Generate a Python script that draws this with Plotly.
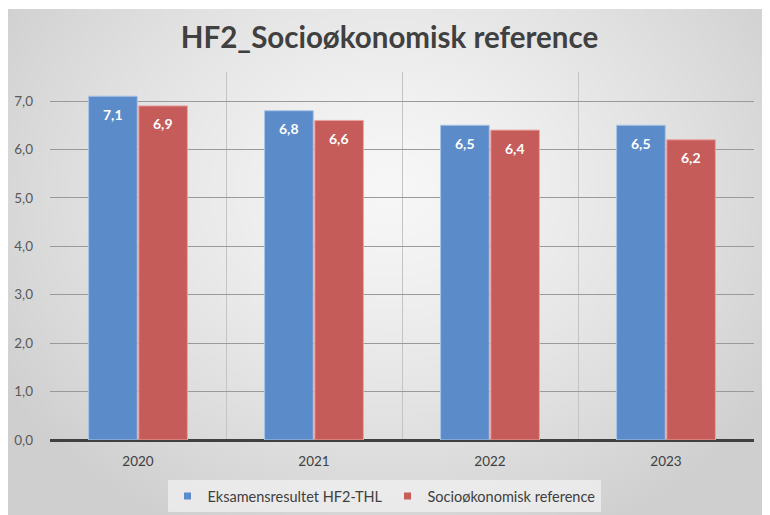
import base64, struct, zlib
import numpy as np
import plotly.graph_objects as go

# ---- data ----
years = ["2020", "2021", "2022", "2023"]
eksamen = [7.1, 6.8, 6.5, 6.5]
socio = [6.9, 6.6, 6.4, 6.2]
series_names = ["Eksamensresultet HF2-THL", "Socioøkonomisk reference"]
title_text = "HF2_Socioøkonomisk reference"
colors = ["#5b8bc8", "#c65c59"]
edge_colors = ["#a8c3e6", "#eba3a1"]

# ---- background gradient image (style only) ----
def make_png(arr):
    h, w, _ = arr.shape
    raw = b"".join(b"\x00" + arr[i].tobytes() for i in range(h))
    def chunk(tag, data):
        c = struct.pack(">I", len(data)) + tag + data
        return c + struct.pack(">I", zlib.crc32(tag + data) & 0xffffffff)
    png = b"\x89PNG\r\n\x1a\n"
    png += chunk(b"IHDR", struct.pack(">IIBBBBB", w, h, 8, 2, 0, 0, 0))
    png += chunk(b"IDAT", zlib.compress(raw, 9))
    png += chunk(b"IEND", b"")
    return "data:image/png;base64," + base64.b64encode(png).decode()

W, H = 200, 130
u = (np.arange(W) + 0.5) / W
v = (np.arange(H) + 0.5) / H
U, V = np.meshgrid(u, v)
d = np.sqrt(((U - 0.5) / 0.6) ** 2 + ((V - 0.35) / 0.75) ** 2)
d = np.clip(d, 0, 1) ** 1.3
val = 247 - (247 - 207) * d
img = np.stack([val, val, val], axis=-1).astype(np.uint8)
bg_src = make_png(img)

# layout geometry in figure pixels (page body adds an 8px offset)
FW, FH = 770, 515
OFF = 8
L, R, T, B = 50 - OFF, 754 - OFF, 72 - OFF, 440 - OFF
pw, ph = R - L, B - T
def px_x(x):
    return (x - L) / pw
def px_y(y):
    return (B - y) / ph

BARGAP = 0.43
slot = pw / len(years) * (1 - BARGAP) / 2  # px width per bar slot

fig = go.Figure()
for name, vals, col, ecol in zip(series_names, [eksamen, socio], colors, edge_colors):
    fig.add_trace(go.Bar(
        x=years, y=vals, name=name, showlegend=False,
        marker=dict(color=col, line=dict(color=ecol, width=1)),
        hoverinfo="skip",
    ))
# legend entries (small square keys, no visible marks)
for name, col in zip(series_names, colors):
    fig.add_trace(go.Scatter(
        x=[years[0]], y=[None], name=name, mode="markers",
        marker=dict(symbol="square", size=7, color=col),
        hoverinfo="skip",
    ))

# value labels inside bar tops
annotations = []
for vals, sign in [(eksamen, -1), (socio, 1)]:
    for idx, val in enumerate(vals):
        annotations.append(dict(
            x=idx, y=val, xref="x", yref="y",
            text=f"{val:.1f}".replace(".", ","), showarrow=False,
            xshift=sign * slot / 2, yshift=-18, yanchor="middle",
            font=dict(family="Lato", size=14, color="white", weight="bold"),
        ))

fig.update_layout(
    width=FW, height=FH,
    margin=dict(l=L, r=FW - R, t=T, b=FH - B, pad=0, autoexpand=False),
    paper_bgcolor="white",
    plot_bgcolor="rgba(0,0,0,0)",
    separators=",.",
    barmode="group",
    bargap=BARGAP,
    bargroupgap=0.03,
    font=dict(family="Lato", color="#404040"),
    title=dict(text=title_text, x=381.5 / FW, xanchor="center", y=1 - 30 / FH, yanchor="middle",
               font=dict(family="Lato", size=29.5, color="#404040", weight="bold")),
    showlegend=True,
    legend=dict(orientation="h", x=px_x(376), xanchor="center", y=px_y(488), yanchor="middle",
                bgcolor="rgba(240,240,240,0.75)", font=dict(family="Lato", size=14.5, color="#404040"),
                itemwidth=30, itemclick=False, itemdoubleclick=False),
    annotations=annotations,
    images=[dict(source=bg_src, xref="paper", yref="paper",
                 x=px_x(-3), y=px_y(1), sizex=px_x(FW) - px_x(-3), sizey=px_y(1) - px_y(FH),
                 xanchor="left", yanchor="top", sizing="stretch", layer="below")],
)
fig.update_xaxes(
    type="category", categoryorder="array", categoryarray=years, range=[-0.5, len(years) - 0.5],
    tickson="boundaries", showgrid=True, gridcolor="#c4c4c4", gridwidth=1,
    ticks="", showline=False, ticklabelstandoff=11, automargin=False,
    tickfont=dict(family="Lato", size=13.5, color="#404040"),
)
fig.update_yaxes(
    range=[0, 7.6], dtick=1, tick0=0, tickformat=".1f",
    showgrid=True, gridcolor="#9a9a9a", gridwidth=1,
    zeroline=True, zerolinecolor="#404040", zerolinewidth=2.5,
    showline=False, ticks="", ticklabelstandoff=16, automargin=False,
    tickfont=dict(family="Lato", size=13.5, color="#595959"),
)

fig.write_html("out.html")
